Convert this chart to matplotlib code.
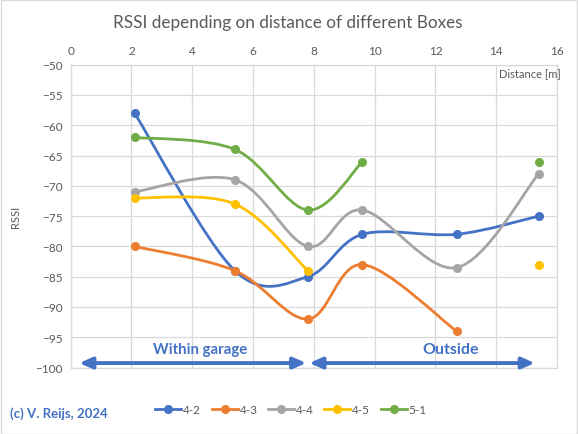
import matplotlib
matplotlib.use("Agg")
import matplotlib.pyplot as plt
from matplotlib.path import Path
from matplotlib.patches import PathPatch, FancyArrowPatch, Rectangle
import numpy as np

plt.rcParams['font.family'] = ['Lato', 'DejaVu Sans']

title = "RSSI depending on distance of different Boxes"
series_names = ["4-2", "4-3", "4-4", "4-5", "5-1"]
colors = ["#4472C4", "#ED7D31", "#A5A5A5", "#FFC000", "#70AD47"]
distance = [2.1, 5.4, 7.8, 9.6, 12.7, 15.4]
rssi_42 = [-58, -84, -85, -78, -78, -75]
rssi_43 = [-80, -84, -92, -83, -94, None]
rssi_44 = [-71, -69, -80, -74, -83.5, -68]
rssi_45 = [-72, -73, -84, None, None, -83]
rssi_51 = [-62, -64, -74, -66, None, -66]
all_series = [rssi_42, rssi_43, rssi_44, rssi_45, rssi_51]
x_ticks = [0, 2, 4, 6, 8, 10, 12, 14, 16]
y_ticks = [-50, -55, -60, -65, -70, -75, -80, -85, -90, -95, -100]

TXT = "#595959"
W, H = 578, 435
fig = plt.figure(figsize=(W / 100, H / 100), dpi=100)
fig.patches.append(Rectangle((0.5 / W, 0.5 / H), 1 - 1.5 / W, 1 - 1.5 / H,
                             transform=fig.transFigure, fill=False,
                             edgecolor="#D9D9D9", linewidth=1))
ax = fig.add_axes([70.7 / W, 1 - 368.6 / H, (557 - 70.7) / W, (368.6 - 65.6) / H])
ax.set_xlim(0, 16)
ax.set_ylim(-100, -50)
ax.set_xticks(x_ticks)
ax.set_yticks(y_ticks)
ax.xaxis.tick_top()
ax.tick_params(length=0, labelsize=8.5, colors=TXT, pad=6)
ax.grid(True, color="#D9D9D9", linewidth=0.9)
ax.set_axisbelow(True)
for s in ax.spines.values():
    s.set_color("#D9D9D9")
    s.set_linewidth(0.9)
ax.set_ylabel("RSSI", fontsize=8, color=TXT, labelpad=10)


def smooth_path(xs, ys):
    pts = np.column_stack([xs, ys]).astype(float)
    n = len(pts)
    verts = [pts[0]]
    codes = [Path.MOVETO]
    for i in range(n - 1):
        p0 = pts[i - 1] if i > 0 else pts[i]
        p1 = pts[i]
        p2 = pts[i + 1]
        p3 = pts[i + 2] if i + 2 < n else pts[i + 1]
        c1 = p1 + (p2 - p0) / 6.0
        c2 = p2 - (p3 - p1) / 6.0
        verts += [c1, c2, p2]
        codes += [Path.CURVE4] * 3
    return Path(verts, codes)


for name, col, vals in zip(series_names, colors, all_series):
    seg_x, seg_y = [], []
    segs = []
    for xv, yv in zip(distance, vals):
        if yv is None:
            if seg_x:
                segs.append((seg_x, seg_y))
            seg_x, seg_y = [], []
        else:
            seg_x.append(xv)
            seg_y.append(yv)
    if seg_x:
        segs.append((seg_x, seg_y))
    for sx, sy in segs:
        if len(sx) > 1:
            ax.add_patch(PathPatch(smooth_path(sx, sy), facecolor="none",
                                   edgecolor=col, linewidth=2, zorder=3,
                                   capstyle="round", joinstyle="round"))
    px = [xv for xv, yv in zip(distance, vals) if yv is not None]
    py = [yv for yv in vals if yv is not None]
    ax.plot(px, py, linestyle="none", marker="o", markersize=5.5, color=col,
            zorder=4)
    ax.plot([], [], color=col, linewidth=2, marker="o", markersize=5.5, label=name)

ARROW = "#4472C4"
for x0, x1 in [(0.28, 7.75), (7.85, 15.27)]:
    ax.add_patch(FancyArrowPatch((x0, -99.25), (x1, -99.25),
                                 arrowstyle="<|-|>,head_length=7.5,head_width=3.3",
                                 mutation_scale=1, color=ARROW, linewidth=2.8,
                                 shrinkA=0, shrinkB=0, zorder=5, clip_on=False))
ax.text(4.26, -96.9, "Within garage", color=ARROW, fontsize=10.8,
        fontweight="bold", ha="center", va="center")
ax.text(12.5, -96.9, "Outside", color=ARROW, fontsize=11.5,
        fontweight="bold", ha="center", va="center")

fig.text(288 / W, 1 - 22.7 / H, title, fontsize=12.3, color=TXT, ha="center", va="center")
fig.text(561 / W, 1 - 74 / H, "Distance [m]", fontsize=8, color=TXT, ha="right", va="center")
fig.text(10 / W, 1 - 414 / H, "(c) V. Reijs, 2024", fontsize=9.5, color=ARROW,
         fontweight="bold", ha="left", va="center")

fig.legend(loc="center", bbox_to_anchor=(291 / W, 1 - 411 / H), ncol=5,
           frameon=False, fontsize=8.5, labelcolor=TXT, handlelength=2.2,
           handletextpad=0.15, columnspacing=0.9)

fig.savefig("out.png", dpi=100)
